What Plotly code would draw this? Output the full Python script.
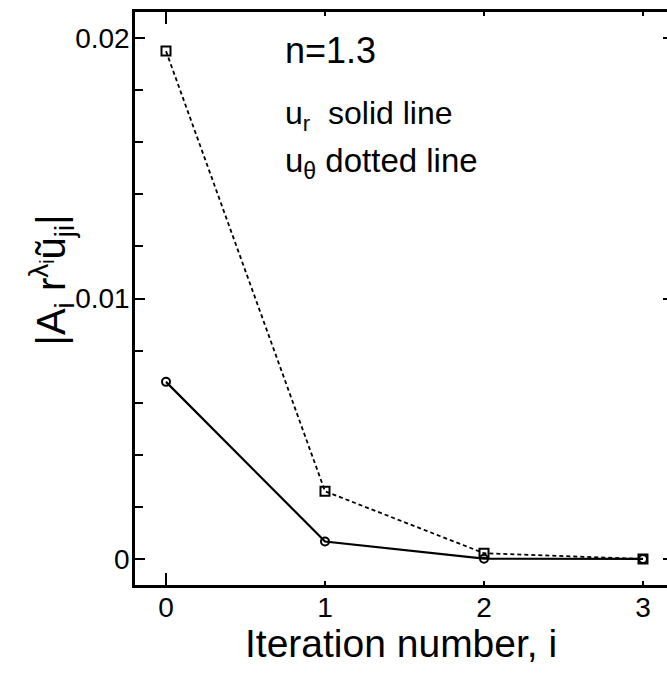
import plotly.graph_objects as go

iterations = [0, 1, 2, 3]
u_r_vals = [0.0068, 0.00067, 0.00001, 0.0]      # solid line, circles
u_theta_vals = [0.0195, 0.0026, 0.00022, 0.0]   # dotted line, squares

x_ticks = [0, 1, 2, 3]
y_ticks = [0, 0.01, 0.02]
y_tick_text = ["0", "0.01", "0.02"]

FONT = "Liberation Sans, Arial, sans-serif"

fig = go.Figure()
fig.add_trace(go.Scatter(
    x=iterations, y=u_theta_vals, mode="lines+markers",
    line=dict(color="black", width=1.8, dash="4px,3px"),
    marker=dict(symbol="square-open", size=9, color="black", line=dict(width=2)),
    showlegend=False))
fig.add_trace(go.Scatter(
    x=iterations, y=u_r_vals, mode="lines+markers",
    line=dict(color="black", width=2.2),
    marker=dict(symbol="circle-open", size=8, color="black", line=dict(width=2)),
    showlegend=False))

fig.update_layout(
    width=667, height=673,
    margin=dict(l=135, r=0, t=12, b=88),
    paper_bgcolor="white", plot_bgcolor="white",
    font=dict(family=FONT, color="black"),
    xaxis=dict(range=[-0.195, 3.151], tickvals=x_ticks, ticks="inside", ticklen=4,
               tickwidth=2, tickcolor="black", showline=True, linewidth=2.5,
               linecolor="black", mirror="ticks", showgrid=False, zeroline=False,
               tickfont=dict(family=FONT, size=28, color="black"),
               ticklabelstandoff=-4),
    yaxis=dict(range=[-0.001, 0.0210], tickvals=y_ticks, ticktext=y_tick_text,
               ticks="inside", ticklen=10, tickwidth=2, tickcolor="black",
               showline=True, linewidth=2.5, linecolor="black", mirror=False,
               showgrid=False, zeroline=False, ticklabelstandoff=-3,
               minor=dict(dtick=0.002, ticks="inside", ticklen=8, tickwidth=2,
                          tickcolor="black", showgrid=False),
               tickfont=dict(family=FONT, size=28, color="black")),
    yaxis2=dict(overlaying="y", side="right", matches="y", range=[-0.001, 0.0210],
                tickvals=y_ticks, ticks="inside", ticklen=4, tickwidth=2,
                tickcolor="black", showticklabels=False, showline=False,
                showgrid=False, zeroline=False),
    xaxis2=dict(overlaying="x", side="bottom", range=[-0.195, 3.151], tickvals=[0],
                ticks="inside", ticklen=12, tickwidth=2, tickcolor="black",
                showticklabels=False, showline=False, showgrid=False,
                zeroline=False, mirror="ticks"),
)

# invisible trace to activate overlay axes
fig.add_trace(go.Scatter(x=[0], y=[0], xaxis="x2", yaxis="y2", mode="markers",
                         marker=dict(opacity=0), showlegend=False, hoverinfo="skip"))

fig.add_annotation(text="Iteration number, i", xref="paper", yref="paper",
                   x=0.5, y=0, yshift=-58, xanchor="center", yanchor="middle",
                   showarrow=False, font=dict(family=FONT, size=39, color="black"))
fig.add_annotation(text="|A<sub>i</sub> r<sup>λ<sub>i</sub></sup>ũ<sub>ji</sub>|",
                   xref="paper", yref="paper", x=0, y=0.5, xshift=-84, yshift=18,
                   xanchor="center", yanchor="middle", textangle=-90,
                   showarrow=False, font=dict(family=FONT, size=40, color="black"))
fig.add_annotation(text="n=1.3", xref="paper", yref="paper", x=0, y=1,
                   xshift=148, yshift=-38, xanchor="left", yanchor="middle",
                   showarrow=False, font=dict(family=FONT, size=36, color="black"))
fig.add_annotation(text="u<sub>r</sub>  solid line", xref="paper", yref="paper",
                   x=0, y=1, xshift=148, yshift=-103, xanchor="left", yanchor="middle",
                   showarrow=False, font=dict(family=FONT, size=32, color="black"))
fig.add_annotation(text="u<sub>θ</sub> dotted line", xref="paper", yref="paper",
                   x=0, y=1, xshift=148, yshift=-151, xanchor="left", yanchor="middle",
                   showarrow=False, font=dict(family=FONT, size=33, color="black"))

fig.write_html("out.html", config={"displayModeBar": False},
               post_script="document.body.style.margin='0';"
                           "document.body.style.overflow='hidden';")
